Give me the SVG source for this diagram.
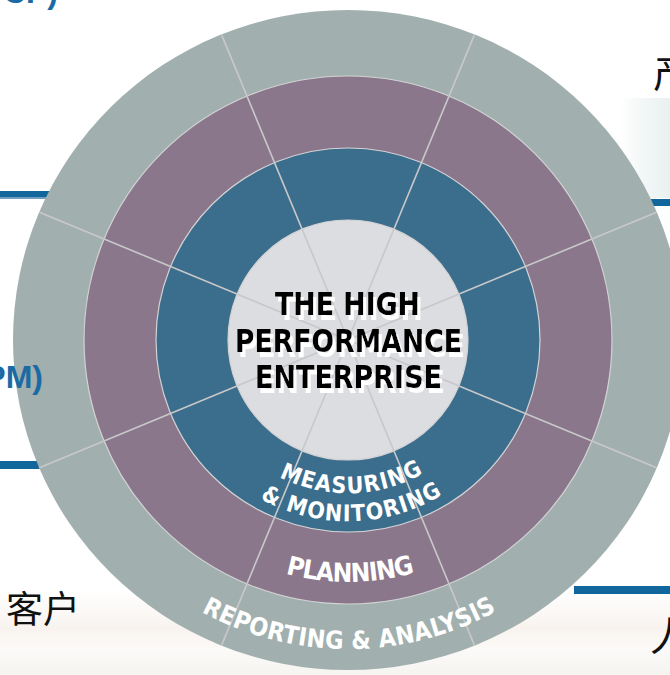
<svg xmlns="http://www.w3.org/2000/svg" width="670" height="675" viewBox="0 0 670 675">
<defs>
  <clipPath id="outerClip"><ellipse cx="348" cy="340" rx="335" ry="330"/></clipPath>
  <path id="pMeas" d="M 197.3 366.6 A 153 153 0 0 0 498.7 366.6"/>
  <path id="pMon" d="M 169.7 371.4 A 181 181 0 0 0 526.3 371.4"/>
  <path id="pPlan" d="M 109.7 382.0 A 242 242 0 0 0 586.3 382.0"/>
  <path id="pRep" d="M 43.7 393.7 A 309 309 0 0 0 652.3 393.7"/>
  <linearGradient id="bgRight" x1="0" y1="0" x2="1" y2="0">
    <stop offset="0" stop-color="#ffffff"/>
    <stop offset="0.5" stop-color="#f2f6f6"/>
    <stop offset="1" stop-color="#eaf0f0"/>
  </linearGradient>
  <linearGradient id="bgBottom" x1="0" y1="0" x2="0" y2="1">
    <stop offset="0" stop-color="#ffffff"/>
    <stop offset="0.45" stop-color="#f8f3ef"/>
    <stop offset="0.7" stop-color="#fcfaf8"/>
    <stop offset="1" stop-color="#f5f4f1"/>
  </linearGradient>
  <filter id="whiteShadow" x="-5%" y="-20%" width="115%" height="150%">
    <feFlood flood-color="#ffffff" result="white"/>
    <feComposite in="white" in2="SourceAlpha" operator="in" result="wshape"/>
    <feOffset in="wshape" dx="3" dy="5" result="off"/>
    <feMerge>
      <feMergeNode in="off"/>
      <feMergeNode in="SourceGraphic"/>
    </feMerge>
  </filter>
</defs>
<style>
  .ring-edge{stroke:#d3d3d5;stroke-width:1.2}
  .spoke{stroke:#c8c8ca;stroke-width:1.6;fill:none}
  .lbl{font-family:"Liberation Sans Narrow","DejaVu Sans Condensed","Roboto Condensed",sans-serif;font-weight:bold;fill:#ffffff}
  .title{font-family:"DejaVu Sans Condensed","Liberation Sans Narrow",sans-serif;font-weight:bold;font-size:32px;text-anchor:middle;fill:#000000}
  .cn{font-family:"Noto Sans CJK SC","Noto Sans CJK JP",sans-serif;fill:#111111}
  .bgtxt{font-family:"Liberation Sans",Arial,sans-serif;font-weight:bold;font-size:32px;fill:#1b6aa3}
  .bar{fill:#11679c}
</style>

<!-- background slide elements -->
<g id="background">
  <rect x="0" y="0" width="670" height="675" fill="#ffffff"/>
  <rect x="620" y="98" width="50" height="100" fill="url(#bgRight)"/>
  <rect x="0" y="590" width="670" height="85" fill="url(#bgBottom)"/>
  <rect x="0" y="191" width="120" height="6" class="bar"/>
  <rect x="0" y="197" width="120" height="2" fill="#6e9fc0"/>
  <rect x="0" y="461" width="120" height="8" class="bar"/>
  <rect x="560" y="199" width="110" height="7" class="bar"/>
  <rect x="574" y="586" width="96" height="8" class="bar"/>
  <text class="bgtxt" x="58" y="3" text-anchor="end">CP)</text>
  <text class="cn" x="6" y="623" font-size="37">客户</text>
  <text class="cn" x="653" y="87" font-size="40">产</text>
  <text class="cn" x="650" y="651" font-size="40">人</text>
</g>

<!-- ring nodes -->
<g id="node-reporting-analysis">
  <ellipse cx="348" cy="340" rx="335" ry="330" fill="#a1b0ae"/>
</g>
<g id="node-planning">
  <circle cx="348" cy="340" r="264" fill="#8b778b" class="ring-edge"/>
</g>
<g id="node-measuring-monitoring">
  <circle cx="348" cy="340" r="192" fill="#3b6d8c" class="ring-edge"/>
</g>
<g id="node-core">
  <circle cx="348" cy="340" r="120" fill="#dcdde1" class="ring-edge"/>
</g>

<!-- connectors: spokes -->
<g id="connectors" clip-path="url(#outerClip)">
  <line class="spoke" x1="348" y1="340" x2="478.1" y2="25.9"/>
  <line class="spoke" x1="348" y1="340" x2="217.9" y2="25.9"/>
  <line class="spoke" x1="348" y1="340" x2="662.1" y2="209.9"/>
  <line class="spoke" x1="348" y1="340" x2="33.9" y2="209.9"/>
  <line class="spoke" x1="348" y1="340" x2="662.1" y2="470.1"/>
  <line class="spoke" x1="348" y1="340" x2="33.9" y2="470.1"/>
  <line class="spoke" x1="348" y1="340" x2="478.1" y2="654.1"/>
  <line class="spoke" x1="348" y1="340" x2="217.9" y2="654.1"/>
</g>

<!-- labels -->
<g id="label-core" filter="url(#whiteShadow)">
  <text class="title" x="347.5" y="315" textLength="145" lengthAdjust="spacingAndGlyphs">THE HIGH</text>
  <text class="title" x="348.5" y="352" textLength="227" lengthAdjust="spacingAndGlyphs">PERFORMANCE</text>
  <text class="title" x="348.5" y="388" textLength="187" lengthAdjust="spacingAndGlyphs">ENTERPRISE</text>
</g>
<g id="label-measuring-monitoring">
  <text class="lbl" font-size="23"><textPath href="#pMeas" startOffset="217.3" text-anchor="middle" textLength="150" lengthAdjust="spacing">MEASURING</textPath></text>
  <text class="lbl" font-size="23"><textPath href="#pMon" startOffset="256.6" text-anchor="middle" textLength="191" lengthAdjust="spacing">&amp; MONITORING</textPath></text>
</g>
<g id="label-planning">
  <text class="lbl" font-size="26"><textPath href="#pPlan" startOffset="340" text-anchor="middle" textLength="131" lengthAdjust="spacing">PLANNING</textPath></text>
</g>
<g id="label-reporting-analysis">
  <text class="lbl" font-size="25"><textPath href="#pRep" startOffset="432.4" text-anchor="middle" textLength="308" lengthAdjust="spacing">REPORTING &amp; ANALYSIS</textPath></text>
</g>

<!-- slide text lying over the wheel -->
<g id="overlay-text">
  <text class="bgtxt" x="43" y="388" text-anchor="end">PM)</text>
</g>
</svg>
